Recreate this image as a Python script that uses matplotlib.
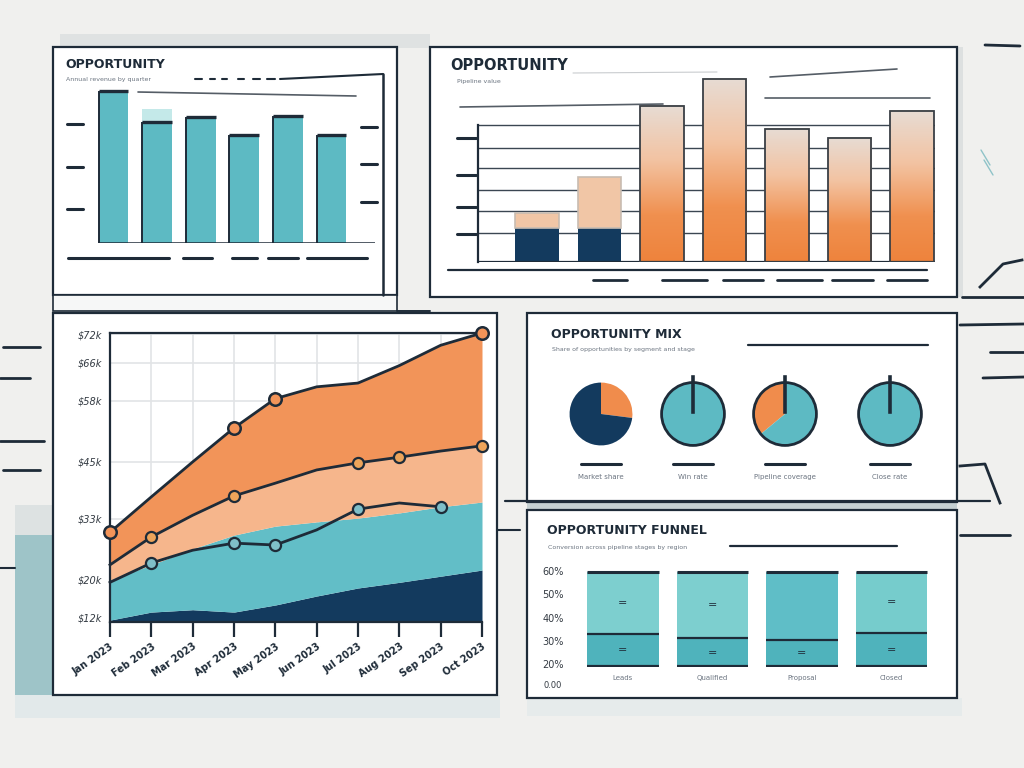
import numpy as np
import matplotlib.pyplot as plt
from matplotlib.patches import Rectangle, Circle
from matplotlib.colors import LinearSegmentedColormap

W, H = 1024, 768

DARK = "#1e2b38"
NAVY = "#133a5e"
TEAL = "#5dbac3"
LTEAL = "#7dcfcf"
ORANGE = "#f08c4c"
PEACH = "#f6b68c"
GRAY = "#6b7480"

# panel 1: quarterly bars
p1_labels = ["Q1", "Q2", "Q3", "Q4", "Q5", "Q6"]
p1_values = [93, 74, 77, 66, 78, 66]

# panel 2: pipeline bars
p2_labels = ["A", "B", "C", "D", "E", "F", "G"]
p2_base = [17, 17, 0, 0, 0, 0, 0]
p2_top = [7.5, 25.5, 0, 0, 0, 0, 0]
p2_orange = [0, 0, 78, 91.5, 66.5, 62, 75.5]
p2_grid = [14.5, 25.5, 36, 47, 57, 68.5]

# panel 3: stacked area ($k)
p3_months = ["Jan 2023", "Feb 2023", "Mar 2023", "Apr 2023", "May 2023",
             "Jun 2023", "Jul 2023", "Aug 2023", "Sep 2023", "Oct 2023"]
p3_navy = [11.5, 13.2, 13.7, 13.2, 14.7, 16.6, 18.3, 19.5, 20.8, 22.1]
p3_teal = [20.0, 23.2, 26.6, 29.5, 31.4, 32.3, 33.1, 34.2, 35.5, 36.5]
p3_mid = [23.2, 29.1, 33.7, 37.8, 40.5, 43.3, 44.8, 46.0, 47.3, 48.4]
p3_top = [30.1, 37.6, 45.0, 52.2, 58.4, 60.9, 61.7, 65.4, 69.7, 72.3]
p3_low = [19.5, 23.6, 26.3, 27.8, 27.4, 30.6, 35.0, 36.3, 35.5]
p3_ticks = [12, 20, 33, 45, 58, 66, 72]

# panel 4: pies (orange share, %)
p4_names = ["Market share", "Win rate", "Pipeline coverage", "Close rate"]
p4_orange = [27, 0, 36, 0]
p4_rest = [NAVY, TEAL, TEAL, TEAL]

# panel 5: stage bars (%)
p5_stages = ["Leads", "Qualified", "Proposal", "Closed"]
p5_lower = [33, 31, 30.5, 33.5]
p5_total = [59.5, 59.5, 59.5, 59.5]
p5_ticks = [20, 30, 40, 50, 60]

fig = plt.figure(figsize=(W / 100, H / 100), dpi=100)
fig.patch.set_facecolor("#f0f0ee")

deco = fig.add_axes([0, 0, 1, 1])
deco.set_xlim(0, W)
deco.set_ylim(H, 0)
deco.axis("off")


def px_axes(x0, y0, x1, y1):
    a = fig.add_axes([x0 / W, 1 - y1 / H, (x1 - x0) / W, (y1 - y0) / H])
    a.set_facecolor("none")
    return a


def seg(x0, y0, x1, y1, lw=2.0, c=DARK, z=3):
    deco.plot([x0, x1], [y0, y1], color=c, lw=lw, solid_capstyle="round", zorder=z)


def rect(x0, y0, x1, y1, fc, ec="none", lw=0, z=1):
    deco.add_patch(Rectangle((x0, y0), x1 - x0, y1 - y0, fc=fc, ec=ec, lw=lw, zorder=z))


# background shadows
rect(60, 34, 430, 48, "#dfe2e2")
rect(15, 505, 53, 535, "#dde2e2")
rect(15, 535, 53, 715, "#9ec4c8")
rect(15, 695, 500, 718, "#e2e9ea")
rect(527, 698, 962, 716, "#e6ebeb")
rect(527, 502, 957, 510, "#c5d0d2")
rect(957, 47, 963, 297, "#dde0e0")

# panel boxes
for box in [(53, 47, 397, 295), (430, 47, 957, 297), (53, 313, 497, 695),
            (527, 313, 957, 502), (527, 510, 957, 698)]:
    rect(*box, fc="white", ec=DARK, lw=1.6, z=2)
rect(53, 295, 397, 311, "#f6f7f7", ec=DARK, lw=1.2, z=2)
seg(397, 311, 430, 311, lw=1.4)

# margin strokes
seg(3, 347, 40, 347)
seg(0, 378, 30, 378)
seg(0, 441, 44, 441)
seg(3, 470, 40, 470)
seg(0, 568, 15, 568, lw=1.5)
seg(985, 45, 1020, 46)
seg(981, 150, 990, 165, lw=1, c="#8fc3c8")
seg(984, 160, 993, 175, lw=1, c="#8fc3c8")
deco.plot([980, 1003, 1022], [287, 264, 260], color=DARK, lw=2, zorder=3)
seg(962, 297, 1024, 297)
seg(960, 325, 1024, 324)
seg(990, 352, 1024, 352)
seg(983, 378, 1024, 377)
deco.plot([960, 985, 1000], [466, 464, 503], color=DARK, lw=2, zorder=3)
seg(505, 501, 990, 501, lw=1.6)
seg(497, 530, 520, 530, lw=1.5)
seg(960, 535, 1010, 535)

# ---------- panel 1 ----------
deco.text(65, 65, "OPPORTUNITY", fontsize=9, fontweight="bold", color=DARK, va="center", zorder=4)
deco.text(66, 79, "Annual revenue by quarter", fontsize=4.5, color=GRAY, va="center", zorder=4)
for xa, xb in [(195, 202), (210, 215), (222, 227), (238, 244), (253, 260), (267, 275)]:
    seg(xa, 79, xb, 79, lw=1.5)
seg(280, 79, 383, 74, lw=1.5)
seg(383, 74, 383, 295, lw=1.8)
seg(138, 92, 356, 96, lw=1.2, c="#555d66")
for yy in [124, 167, 209]:
    seg(67, yy, 83, yy, lw=2.2)
for yy in [127, 164, 202]:
    seg(361, yy, 377, yy, lw=2.2)
for xa, xb in [(68, 169), (183, 212), (232, 257), (268, 298), (307, 367)]:
    seg(xa, 258, xb, 258, lw=2.2)

ax1 = px_axes(70, 80, 375, 243)
x1 = np.arange(len(p1_values))
w1 = 0.68
ax1.bar(x1, p1_values, w1, color=TEAL, zorder=2)
ax1.bar(1, 8, w1, bottom=p1_values[1], color=LTEAL, alpha=0.45, zorder=2)
ax1.hlines(p1_values, x1 - w1 / 2, x1 + w1 / 2, color=DARK, lw=2.4, zorder=3)
ax1.vlines(x1 - w1 / 2, 0, p1_values, color=DARK, lw=1.4, zorder=3)
ax1.axhline(0, xmin=0.095, xmax=1.0, color=DARK, lw=1.8)
ax1.set_xlim(-1.0, 6.0)
ax1.set_ylim(0, 100)
ax1.axis("off")

# ---------- panel 2 ----------
deco.text(450, 66, "OPPORTUNITY", fontsize=10.5, fontweight="bold", color=DARK, va="center", zorder=4)
deco.text(457, 81, "Pipeline value", fontsize=4.5, color=GRAY, va="center", zorder=4)
seg(460, 107, 663, 104, lw=1.2, c="#555d66")
seg(573, 73, 717, 72, lw=0.8, c="#c9cccf")
seg(770, 77, 897, 69, lw=1.2, c="#555d66")
seg(765, 98, 930, 98, lw=1.2, c="#555d66")
for yy in [138, 175, 207, 234]:
    seg(457, yy, 476, yy, lw=2.2)
seg(448, 270, 927, 270, lw=1.6)
for xa, xb in [(593, 627), (662, 707), (723, 763), (777, 822), (832, 873), (887, 927)]:
    seg(xa, 280, xb, 280, lw=2.0)

ax2 = px_axes(478, 62, 935, 262)
x2 = np.arange(len(p2_labels))
w2 = 0.7
xlim2 = (-0.944, 6.368)
ax2.set_yticks(p2_grid)
ax2.grid(axis="y", color="#3b4652", lw=1.0)
ax2.set_axisbelow(True)
for i in x2:
    if p2_base[i] > 0:
        ax2.bar(i, p2_base[i], w2, color=NAVY, zorder=2)
        ax2.bar(i, p2_top[i], w2, bottom=p2_base[i], color="#f1c6a6",
                edgecolor="#c8bcb2", lw=1.2, zorder=2)
ograd = LinearSegmentedColormap.from_list(
    "og", [(0, "#ee833c"), (0.3, "#f0904f"), (0.65, "#f3c3a2"), (1, "#e7dcd4")])
grad = np.linspace(0, 1, 256).reshape(-1, 1)
for i in x2:
    h = p2_orange[i]
    if h > 0:
        ax2.imshow(grad, extent=(i - w2 / 2, i + w2 / 2, 0, h), origin="lower",
                   cmap=ograd, aspect="auto", zorder=2)
        ax2.bar(i, h, w2, fill=False, edgecolor="#3a3f45", lw=1.3, zorder=3)
ax2.plot([xlim2[0], xlim2[0]], [0, p2_grid[-1]], color=DARK, lw=1.6, clip_on=False)
ax2.axhline(0, color=DARK, lw=1.6)
ax2.set_xlim(*xlim2)
ax2.set_ylim(0, 100)
ax2.set_aspect("auto")
ax2.tick_params(length=0, labelleft=False, labelbottom=False)
for s in ax2.spines.values():
    s.set_visible(False)

# ---------- panel 3 ----------
ax3 = px_axes(110, 333, 482, 622)
x3 = np.arange(len(p3_months))
floor3 = 11.1
ax3.fill_between(x3, floor3, p3_navy, color=NAVY, lw=0, zorder=2)
ax3.fill_between(x3, p3_navy, p3_teal, color="#62bec7", lw=0, zorder=2)
ax3.fill_between(x3, p3_teal, p3_mid, color=PEACH, lw=0, zorder=2)
ax3.fill_between(x3, p3_mid, p3_top, color="#f29459", lw=0, zorder=2)
ax3.plot(x3, p3_top, color=DARK, lw=2, marker="o", ms=9, mfc="#f29459",
         mec=DARK, mew=1.8, markevery=[0, 3, 4, 9], zorder=4, clip_on=False)
ax3.plot(x3, p3_mid, color=DARK, lw=2, marker="o", ms=8, mfc="#eda45a",
         mec=DARK, mew=1.6, markevery=[1, 3, 6, 7, 9], zorder=4, clip_on=False)
ax3.plot(x3[:len(p3_low)], p3_low, color=DARK, lw=2, marker="o", ms=8, mfc="#7fbfc9",
         mec=DARK, mew=1.6, markevery=[1, 3, 4, 6, 8], zorder=4, clip_on=False)
ax3.set_xlim(0, 9)
ax3.set_ylim(floor3, 72.3)
ax3.set_yticks(p3_ticks)
ax3.set_yticklabels([f"${v}k" for v in p3_ticks], fontsize=7, color="#333a42",
                    fontstyle="italic")
ax3.set_xticks(x3)
ax3.set_xticklabels(p3_months, rotation=35, ha="right", rotation_mode="anchor",
                    fontsize=7, fontweight="bold", color=DARK)
ax3.tick_params(axis="x", length=11, width=1.6, color=DARK, pad=3)
ax3.tick_params(axis="y", length=0, pad=6)
ax3.grid(color="#e2e4e6", lw=1.2, zorder=0)
ax3.set_axisbelow(True)
ax3.spines["right"].set_visible(False)
for s in ["left", "top", "bottom"]:
    ax3.spines[s].set_color(DARK)
    ax3.spines[s].set_linewidth(1.6)

# ---------- panel 4 ----------
deco.text(551, 335, "OPPORTUNITY MIX", fontsize=9, fontweight="bold", color=DARK, va="center", zorder=4)
deco.text(552, 349, "Share of opportunities by segment and stage", fontsize=4.5,
          color=GRAY, va="center", zorder=4)
seg(748, 345, 928, 345, lw=1.6)
centers4 = [601, 693, 785, 890]
for i, cx in enumerate(centers4):
    axp = px_axes(cx - 33, 414 - 33, cx + 33, 414 + 33)
    share = p4_orange[i]
    if share > 0:
        axp.pie([share, 100 - share], colors=[ORANGE, p4_rest[i]], startangle=90,
                counterclock=(i != 0), radius=1, wedgeprops=dict(lw=0))
    else:
        axp.pie([100], colors=[p4_rest[i]], radius=1, wedgeprops=dict(lw=0))
    if i > 0:
        axp.add_patch(Circle((0, 0), 1, fill=False, ec=DARK, lw=2))
        axp.plot([0, 0], [0.05, 1.18], color=DARK, lw=2.6, clip_on=False)
    axp.set_xlim(-1.05, 1.05)
    axp.set_ylim(-1.05, 1.05)
    axp.set_aspect("equal")
    axp.axis("off")
    seg(cx - 20, 464, cx + 20, 464, lw=2.2)
    deco.text(cx, 477, p4_names[i], fontsize=5, color=GRAY, ha="center", va="center", zorder=4)

# ---------- panel 5 ----------
deco.text(547, 531, "OPPORTUNITY FUNNEL", fontsize=9, fontweight="bold", color=DARK, va="center", zorder=4)
deco.text(548, 547, "Conversion across pipeline stages by region", fontsize=4.5,
          color=GRAY, va="center", zorder=4)
seg(730, 546, 897, 546, lw=1.6)
ax5 = px_axes(575, 565, 940, 667)
x5 = np.arange(len(p5_stages))
floor5 = 18.7
w5 = 0.8
upper = [t - l for t, l in zip(p5_total, p5_lower)]
lower = [l - floor5 for l in p5_lower]
ax5.bar(x5, lower, w5, bottom=floor5, color="#4fb3bc", zorder=2)
ax5.bar(x5, upper, w5, bottom=p5_lower, color=[LTEAL, LTEAL, "#5fbec7", "#76cccc"], zorder=2)
ax5.hlines(p5_total, x5 - w5 / 2, x5 + w5 / 2, color=DARK, lw=2.2, zorder=3)
ax5.hlines(p5_lower, x5 - w5 / 2, x5 + w5 / 2, color=DARK, lw=1.6, zorder=3)
ax5.hlines(np.full(len(x5), floor5 + 0.6), x5 - w5 / 2, x5 + w5 / 2, color=DARK, lw=1.6, zorder=3)
for i in x5:
    ax5.text(i, (p5_lower[i] + floor5) / 2, "=", ha="center", va="center",
             fontsize=8, color=DARK, zorder=4)
    if i != 2:
        ax5.text(i, (p5_lower[i] + p5_total[i]) / 2, "=", ha="center", va="center",
                 fontsize=8, color=DARK, zorder=4)
ax5.set_xlim(-0.536, 3.542)
ax5.set_ylim(floor5, 62.6)
ax5.set_yticks(p5_ticks)
ax5.set_yticklabels([f"{v}%" for v in p5_ticks], fontsize=7, color="#333a42")
ax5.set_xticks(x5)
ax5.set_xticklabels(p5_stages, fontsize=5, color=GRAY)
ax5.tick_params(length=0, pad=6)
ax5.tick_params(axis="y", pad=8)
for s in ax5.spines.values():
    s.set_visible(False)
deco.text(553, 686, "0.00", fontsize=6, color="#333a42", ha="center", va="center", zorder=4)

fig.savefig("out.png", dpi=100, facecolor=fig.get_facecolor())
